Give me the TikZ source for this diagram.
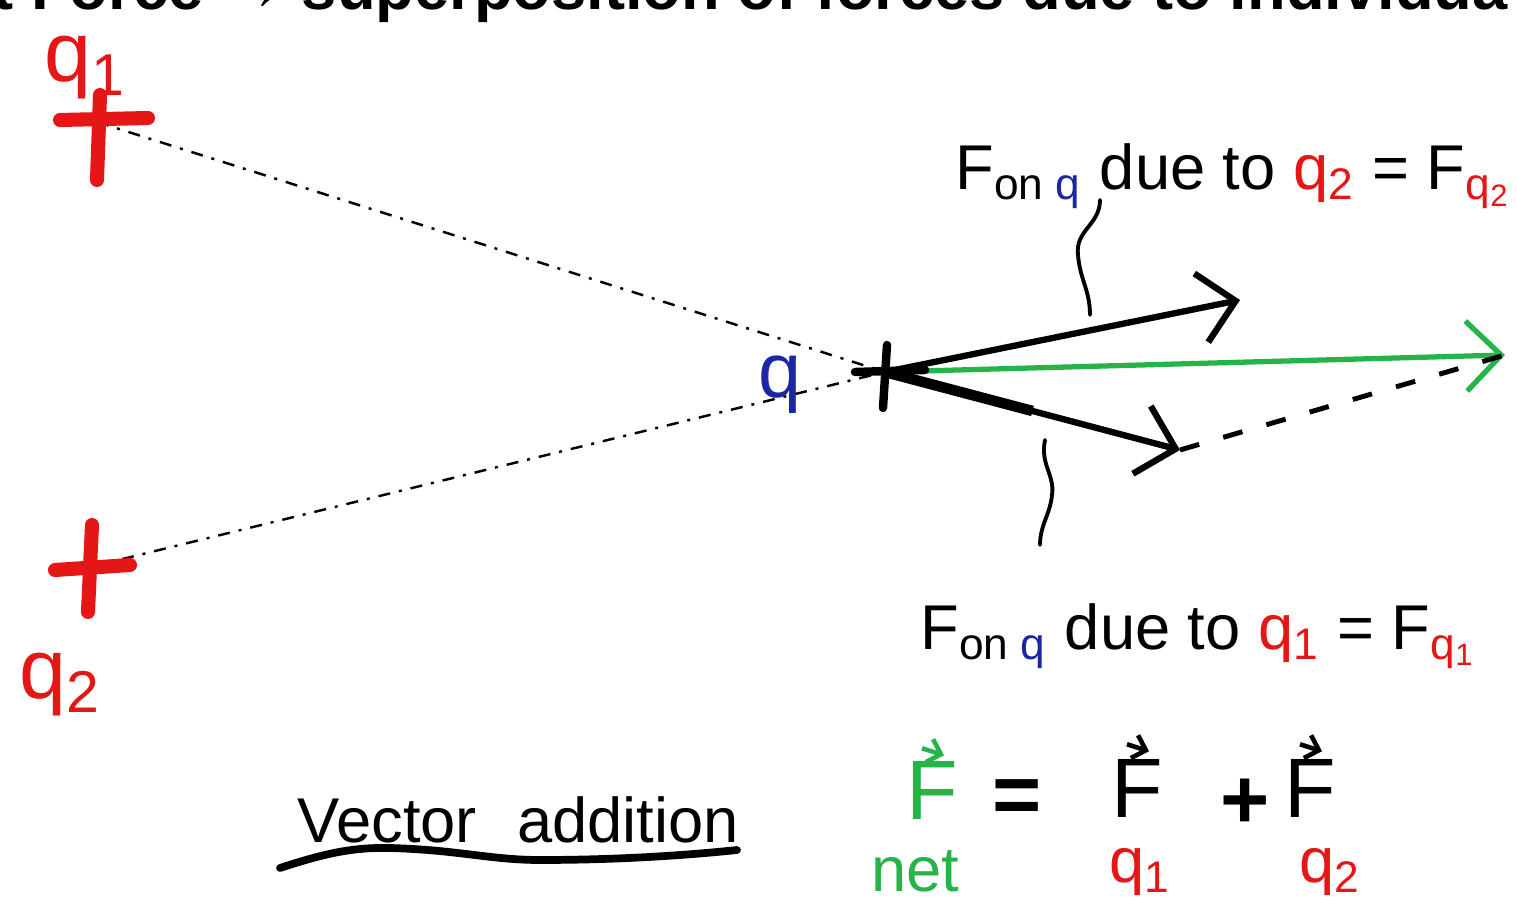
\documentclass[tikz,border=0pt]{standalone}
\usepackage{fontspec}
\setmainfont{Liberation Sans}
\usepackage{tikz}
\usetikzlibrary{arrows.meta,positioning,calc}
\usepackage{xcolor}

\definecolor{qred}{RGB}{228,22,22}
\definecolor{qblue}{RGB}{28,38,165}
\definecolor{fgreen}{RGB}{38,180,72}

\newcommand{\qb}{\textcolor{qblue}{q}}
\newcommand{\qr}[1]{\textcolor{qred}{q\textsubscript{#1}}}

\begin{document}
\begin{tikzpicture}[
    hand/.style={inner sep=0pt, font=\fontsize{18}{20}\selectfont},
    big/.style={inner sep=0pt, font=\fontsize{24}{26}\selectfont},
    qlabel/.style={inner sep=0pt, text=qred, font=\fontsize{24}{26}\selectfont},
    charge/.style={line width=4pt, line cap=round, qred},
    sightline/.style={line width=0.7pt, dash pattern=on 1.2mm off 0.9mm on 0.3mm off 0.9mm},
    force/.style={line width=1.8pt, line cap=round, -{Straight Barb[length=3.5mm,width=7mm]}},
    vecmark/.style={line width=1.3pt, -{Straight Barb[length=1.2mm,width=2.4mm]}},
    closing/.style={line width=1.4pt, dash pattern=on 2mm off 2.5mm},
    brace/.style={line width=1.1pt, line cap=round},
]
\useasboundingbox (0,0) rectangle (15.17,9.00);

% Title (cut off by the top edge)
\node[anchor=base west, inner sep=0pt, font=\fontsize{18}{20}\selectfont\bfseries] (title) at (-0.08,8.90) {t Force → superposition of forces due to individua};

% Charges
\coordinate (qone) at (0.97,7.78);
\coordinate (qtwo) at (0.90,3.33);
\coordinate (qtest) at (8.85,5.28);

% Lines from the source charges
\draw[sightline] (qone) -- (qtest);
\draw[sightline] (qtwo) -- (qtest);

% Forces on q
\coordinate (tiptwo) at (12.40,6.00);
\coordinate (tipone) at (11.80,4.50);
\coordinate (tipnet) at (15.05,5.45);
\draw[force, fgreen, line width=1.5pt] (qtest) -- (tipnet);
\draw[force] (qtest) -- (tiptwo);
\draw[force] (qtest) -- (tipone);
\draw[line width=3pt] (qtest) -- ($(qtest)!0.5!(tipone)$);
\draw[closing] (tipone) -- (tipnet);

% Crosses
\draw[charge] ($(qone)+(-0.37,0.02)$) -- ($(qone)+(0.51,0.04)$) ($(qone)+(0.03,0.27)$) -- ($(qone)+(0,-0.58)$);
\draw[charge] ($(qtwo)+(-0.35,-0.03)$) -- ($(qtwo)+(0.40,0.02)$) ($(qtwo)+(0.02,0.42)$) -- ($(qtwo)+(-0.02,-0.45)$);
\draw[charge, black, line width=2.4pt] ($(qtest)+(-0.30,0)$) -- ($(qtest)+(0.40,0.02)$) ($(qtest)+(0.02,0.27)$) -- ($(qtest)+(-0.02,-0.36)$);

% Charge labels
\node[qlabel] (qonelabel) at (0.85,8.32) {q\textsubscript{1}};
\node[qlabel] (qtwolabel) at (0.60,2.15) {q\textsubscript{2}};
\node[qlabel, text=qblue, font=\fontsize{22}{24}\selectfont] (qtestlabel) at (7.80,5.15) {q};

% Force labels
\node[hand, anchor=base west] (labeltwo) at (9.55,7.10) {F\textsubscript{on \qb} due to \qr{2} = F\textsubscript{\qr{2}}};
\node[hand, anchor=base west] (labelone) at (9.20,2.50) {F\textsubscript{on \qb} due to \qr{1} = F\textsubscript{\qr{1}}};
\draw[brace] (11.00,7.00) .. controls (11.00,6.75) and (10.75,6.70) .. (10.78,6.45) .. controls (10.80,6.20) and (10.90,6.10) .. (10.90,5.85);
\draw[brace] (10.45,4.60) .. controls (10.40,4.35) and (10.55,4.25) .. (10.52,4.05) .. controls (10.50,3.85) and (10.40,3.75) .. (10.40,3.55);

% Vector addition
\node[hand, anchor=base west] (vecadd) at (2.97,0.57) {Vector\hspace{4mm}addition};
\draw[line width=2.2pt, line cap=round] (2.80,0.32) .. controls (3.20,0.45) and (3.50,0.53) .. (3.90,0.52) .. controls (4.60,0.50) and (4.90,0.40) .. (5.40,0.40) .. controls (6.20,0.40) and (6.90,0.45) .. (7.37,0.50);

% Sum of the forces
\node[big, text=fgreen] (fnet) at (9.32,1.10) {F};
\node[hand, text=fgreen, below=3mm of fnet, xshift=-1.7mm] (netsub) {net};
\node[big, font=\fontsize{24}{26}\selectfont\bfseries] (eqsign) at (10.17,0.98) {=};
\node[big] (fone) at (11.37,1.12) {F};
\node[hand, text=qred, below=3mm of fone, xshift=0.3mm] (onesub) {q\textsubscript{1}};
\node[big, font=\fontsize{24}{26}\selectfont\bfseries] (plus) at (12.45,0.96) {+};
\node[big] (ftwo) at (13.10,1.12) {F};
\node[hand, text=qred, below=3mm of ftwo, xshift=2mm] (twosub) {q\textsubscript{2}};
\draw[vecmark, fgreen] ($(fnet.north)+(-0.10,0.12)$) -- ($(fnet.north)+(0.12,0.05)$);
\draw[vecmark] ($(fone.north)+(-0.10,0.14)$) -- ($(fone.north)+(0.12,0.07)$);
\draw[vecmark] ($(ftwo.north)+(-0.10,0.14)$) -- ($(ftwo.north)+(0.12,0.07)$);

\end{tikzpicture}
\end{document}
